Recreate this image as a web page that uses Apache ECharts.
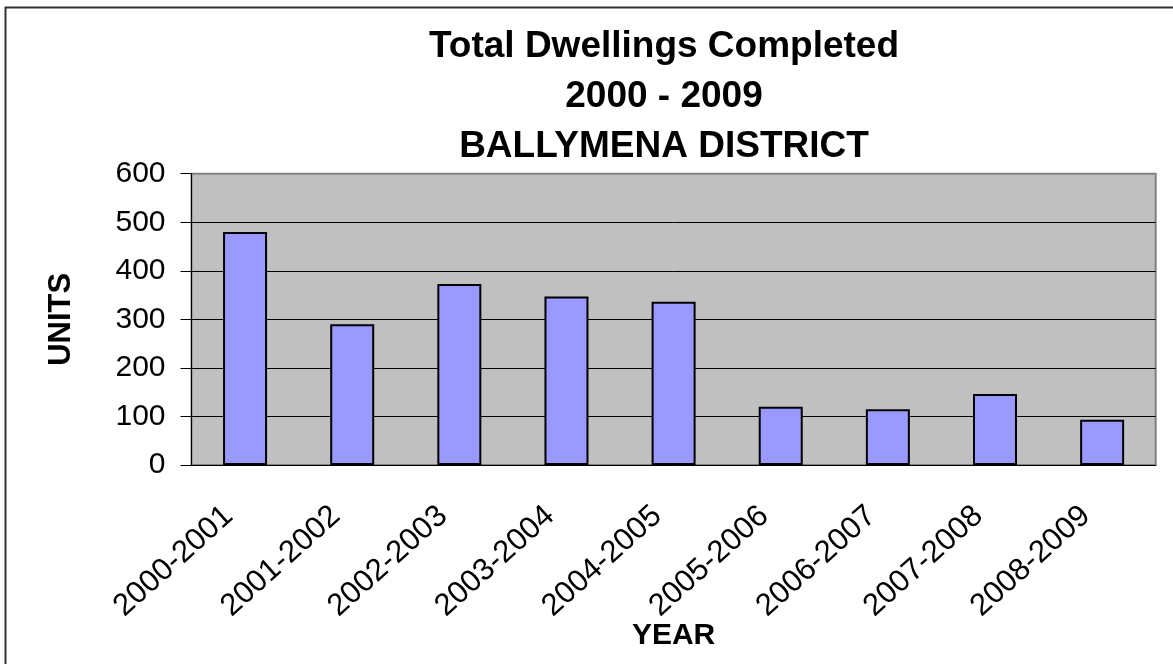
<!DOCTYPE html>
<html>
<head>
<meta charset="utf-8">
<script src="https://cdn.jsdelivr.net/npm/echarts@6/dist/echarts.min.js"></script>
<style>
  html, body { margin: 0; padding: 0; background: #fff; }
  #chart { width: 1173px; height: 664px; }
</style>
</head>
<body>
<div id="chart"></div>
<script>
const years = ['2000-2001', '2001-2002', '2002-2003', '2003-2004', '2004-2005',
    '2005-2006', '2006-2007', '2007-2008', '2008-2009'];
const units = [480, 290, 373, 347, 336, 120, 115, 146, 93];
const titleLines = ['Total Dwellings Completed', '2000 - 2009', 'BALLYMENA DISTRICT'];

const font = "Arial, 'Liberation Sans', sans-serif";

const chart = echarts.init(document.getElementById('chart'));

chart.setOption({
    animation: false,
    backgroundColor: '#fff',
    title: {
        text: titleLines.join('\n'),
        left: 659,
        top: 17,
        textAlign: 'center',
        textStyle: {
            fontFamily: font,
            fontSize: 37,
            fontWeight: 'bold',
            color: '#000',
            lineHeight: 50,
        },
    },
    graphic: [
        {
            type: 'rect',
            shape: { x: 5.5, y: 7.5, width: 1200, height: 700 },
            style: { fill: 'none', stroke: '#333', lineWidth: 2 },
            silent: true,
        },
    ],
    grid: {
        left: 191.5,
        top: 173.7,
        right: 17.3,
        bottom: 199,
        show: true,
        backgroundColor: '#C0C0C0',
        borderColor: '#808080',
        borderWidth: 2,
    },
    xAxis: {
        type: 'category',
        data: years,
        name: 'YEAR',
        nameLocation: 'middle',
        nameGap: 156,
        nameMoveOverlap: false,
        nameTextStyle: {
            fontFamily: font,
            fontSize: 30,
            fontWeight: 'bold',
            color: '#000',
        },
        axisLine: { lineStyle: { color: '#000', width: 1 } },
        axisTick: { length: 10, interval: 0, lineStyle: { color: '#000' } },
        axisLabel: {
            interval: 0,
            rotate: 42,
            margin: 32,
            padding: [0, 22, 0, 0],
            fontFamily: font,
            fontSize: 31,
            color: '#000',
        },
        splitLine: { show: false },
    },
    yAxis: {
        type: 'value',
        min: 0,
        max: 600,
        interval: 100,
        name: 'UNITS',
        nameLocation: 'middle',
        nameGap: 115,
        nameMoveOverlap: false,
        nameTextStyle: {
            fontFamily: font,
            fontSize: 31,
            fontWeight: 'bold',
            color: '#000',
        },
        axisLine: { show: true, lineStyle: { color: '#000', width: 1 } },
        axisTick: { show: true, length: 11, lineStyle: { color: '#000' } },
        axisLabel: {
            margin: 26,
            fontFamily: font,
            fontSize: 30,
            color: '#000',
        },
        splitLine: {
            show: true,
            showMinLine: false,
            showMaxLine: false,
            lineStyle: { color: '#000', width: 1 },
        },
    },
    series: [
        {
            type: 'bar',
            data: units,
            barWidth: 44,
            itemStyle: {
                color: '#9999FF',
                borderColor: '#000',
                borderWidth: 2,
            },
        },
    ],
});
</script>
</body>
</html>
